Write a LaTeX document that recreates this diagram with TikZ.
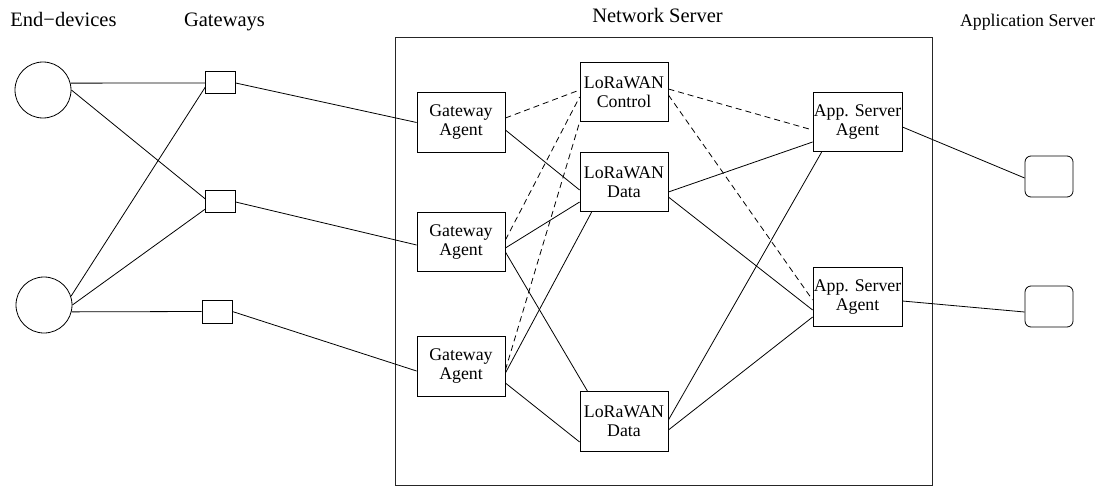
\documentclass[tikz,border=0pt]{standalone}
\usepackage{fontspec}
\setmainfont{Liberation Serif}
\begin{document}
\begin{tikzpicture}[x=1pt,y=-1pt,
  line width=0.8pt,
  lbl/.style={font=\fontsize{20.5}{24}\selectfont, anchor=base, inner sep=0pt},
  dev/.style={draw, circle, minimum size=56pt, inner sep=0pt},
  gwbox/.style={draw, rectangle, minimum width=29.5pt, minimum height=22pt, inner sep=0pt},
  agent/.style={draw, rectangle, minimum width=88pt, minimum height=59.5pt, inner sep=0pt, align=center, font=\fontsize{17.8}{19}\selectfont},
  asbox/.style={draw, rectangle, rounded corners=6pt, minimum width=48pt, minimum height=41pt, inner sep=0pt},
  ctl/.style={dash pattern=on 6pt off 4pt}
]
\useasboundingbox (0,0) rectangle (1105,487);

% labels
\node[lbl] (lend) at (63.5,27) {End−devices};
\node[lbl] (lgw) at (224.5,27) {Gateways};
\node[lbl] (lns) at (657.5,23) {Network Server};
\node[lbl, font=\fontsize{17.8}{21}\selectfont] (las) at (1027.5,27) {Application Server};

% network server frame
\node[draw, line width=0.9pt, draw=black!85, rectangle, minimum width=537pt, minimum height=448pt, inner sep=0pt] (ns) at (663.5,261) {};

% end devices
\node[dev] (ed1) at (43,90) {};
\node[dev] (ed2) at (44,305) {};

% gateways
\node[gwbox] (gw1) at (220.5,82) {};
\node[gwbox] (gw2) at (220.5,201) {};
\node[gwbox, minimum width=30pt, minimum height=23pt] (gw3) at (217,311.5) {};

% gateway agents
\node[agent] (ga1) at (461,122.5) {Gateway\\Agent};
\node[agent] (ga2) at (461,242) {Gateway\\Agent};
\node[agent] (ga3) at (461,366.5) {Gateway\\Agent};

% LoRaWAN
\node[agent] (lc) at (624,92) {LoRaWAN\\Control};
\node[agent] (ld1) at (624,182) {LoRaWAN\\Data};
\node[agent] (ld2) at (624,421.5) {LoRaWAN\\Data};

% app server agents
\node[agent, minimum width=89pt] (asa1) at (857.5,122) {App. Server\\Agent};
\node[agent, minimum width=89pt] (asa2) at (857.5,297) {App. Server\\Agent};

% application servers
\node[asbox] (as1) at (1049,176.5) {};
\node[asbox] (as2) at (1049,306.5) {};

% end devices to gateways
\draw (ed1.14.5) -- ([yshift=-1pt]gw1.west);
\draw (ed1.east) -- ([yshift=2pt]gw2.west);
\draw (ed2.18) -- ([yshift=-5pt]gw1.west);
\draw (ed2.east) -- ([yshift=-8pt]gw2.west);
\draw (ed2.-14.5) -- (gw3.west);

% gateways to gateway agents
\draw ([yshift=-1pt]gw1.east) -- (ga1.west);
\draw ([yshift=-1pt]gw2.east) -- ([yshift=-3pt]ga2.west);
\draw (gw3.east) -- ([yshift=-4.5pt]ga3.west);

% gateway agents to LoRaWAN
\draw[ctl] ([yshift=4.5pt]ga1.east) -- ([yshift=2pt]lc.west);
\draw ([yshift=-7.5pt]ga1.east) -- ([yshift=-8pt]ld1.west);
\draw[ctl] ([yshift=2pt]ga2.east) -- ([yshift=-5pt]lc.west);
\draw ([yshift=-6pt]ga2.east) -- ([yshift=-20pt]ld1.west);
\draw ([yshift=-10pt]ga2.east) -- ([xshift=8pt]ld2.north west);
\draw[ctl] ([yshift=-3.5pt]ga3.east) -- (lc.south west);
\draw ([yshift=-6.5pt]ga3.east) -- ([xshift=12pt]ld1.south west);
\draw ([yshift=-16.5pt]ga3.east) -- ([yshift=-20.5pt]ld2.west);

% LoRaWAN to app server agents
\draw[ctl] ([yshift=3pt]lc.east) -- ([yshift=-8pt]asa1.west);
\draw[ctl] ([yshift=-3pt]lc.east) -- ([yshift=-3pt]asa2.west);
\draw ([yshift=-10pt]ld1.east) -- ([yshift=-20pt]asa1.west);
\draw ([yshift=-15pt]ld1.east) -- ([yshift=-13pt]asa2.west);
\draw ([yshift=1.5pt]ld2.east) -- ([xshift=9pt]asa1.south west);
\draw ([yshift=-8.5pt]ld2.east) -- ([yshift=-20pt]asa2.west);

% app server agents to application servers
\draw ([yshift=-5pt]asa1.east) -- ([yshift=-1.5pt]as1.west);
\draw ([yshift=-4pt]asa2.east) -- ([yshift=-5.5pt]as2.west);
\end{tikzpicture}
\end{document}
